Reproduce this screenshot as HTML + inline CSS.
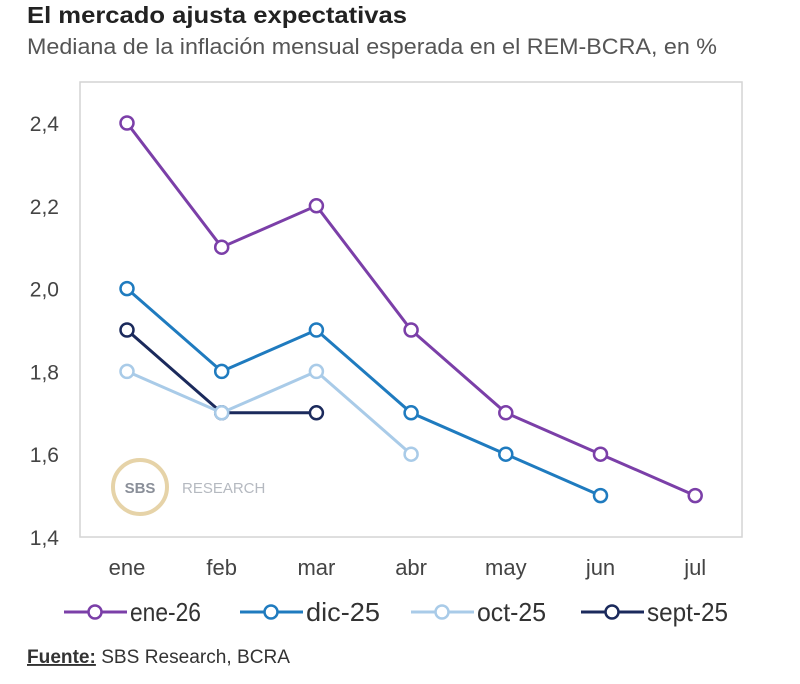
<!DOCTYPE html>
<html><head><meta charset="utf-8"><style>
body{margin:0;background:#fff;width:800px;height:679px;overflow:hidden;font-family:"Liberation Sans",sans-serif}
</style></head><body>
<svg width="800" height="679">
<text x="27" y="23" font-size="23" font-weight="bold" fill="#222" textLength="380" lengthAdjust="spacingAndGlyphs">El mercado ajusta expectativas</text>
<text x="27" y="54" font-size="22" fill="#555" textLength="690" lengthAdjust="spacingAndGlyphs">Mediana de la inflación mensual esperada en el REM-BCRA, en %</text>
<rect x="80" y="82" width="662" height="455" fill="none" stroke="#d4d4d4" stroke-width="1.5"/>
<g>
<circle cx="140" cy="487" r="27" fill="none" stroke="#e6d3a8" stroke-width="4"/>
<text x="140" y="493" font-size="15" font-weight="bold" fill="#8a8f99" text-anchor="middle">SBS</text>
<text x="182" y="493" font-size="15" fill="#b5b9c0">RESEARCH</text>
</g>
<g id="yaxis"></g>
<g id="xaxis"></g>
<g id="series"></g>
<g id="legend"></g>
<text x="27" y="663" font-size="19" fill="#333" textLength="263" lengthAdjust="spacingAndGlyphs"><tspan font-weight="bold" text-decoration="underline">Fuente:</tspan> SBS Research, BCRA</text>
</svg>
<script>
const categories=["ene","feb","mar","abr","may","jun","jul"];
const yTicks=[1.4,1.6,1.8,2.0,2.2,2.4];
const seriesNames=["ene-26","dic-25","oct-25","sept-25"];
const seriesColors=["#7b3fa8","#1f7bbf","#a9cbe8","#1b2a5c"];
const ene26=[2.4,2.1,2.2,1.9,1.7,1.6,1.5];
const dic25=[2.0,1.8,1.9,1.7,1.6,1.5];
const oct25=[1.8,1.7,1.8,1.6];
const sept25=[1.9,1.7,1.7];
const seriesData=[ene26,dic25,oct25,sept25];
const NS="http://www.w3.org/2000/svg";
const x=i=>127+i*94.7;
const y=v=>537-(v-1.4)*414;
function mk(t,a,p){const e=document.createElementNS(NS,t);for(const k in a)e.setAttribute(k,a[k]);p.appendChild(e);return e;}
const ya=document.getElementById('yaxis');
yTicks.forEach(v=>{const t=mk('text',{x:59,y:y(v)+8,'font-size':21,fill:'#444','text-anchor':'end'},ya);t.textContent=v.toFixed(1).replace('.',',');

});
const xa=document.getElementById('xaxis');
categories.forEach((c,i)=>{const t=mk('text',{x:x(i),y:575,'font-size':22,fill:'#444','text-anchor':'middle'},xa);t.textContent=c;

});
const sg=document.getElementById('series');
for(let s=seriesData.length-1;s>=0;s--){
const d=seriesData[s],col=seriesColors[s];
const g=mk('g',{},sg);


mk('polyline',{points:d.map((v,i)=>x(i)+','+y(v)).join(' '),fill:'none',stroke:col,'stroke-width':3},g);
d.forEach((v,i)=>{const c=mk('circle',{cx:x(i),cy:y(v),r:6.5,fill:'#fff',stroke:col,'stroke-width':2.5},g);

});
}
const lg=document.getElementById('legend');
const lx=[64,240,411,581];
const lw=[71,74,69,81];
seriesNames.forEach((n,i)=>{const g=mk('g',{},lg);


mk('line',{x1:lx[i],y1:612,x2:lx[i]+63,y2:612,stroke:seriesColors[i],'stroke-width':3},g);
mk('circle',{cx:lx[i]+31,cy:612,r:6.5,fill:'#fff',stroke:seriesColors[i],'stroke-width':2.5},g);
const t=mk('text',{x:lx[i]+66,y:621,'font-size':26,fill:'#333',textLength:lw[i],lengthAdjust:'spacingAndGlyphs'},g);t.textContent=n;});
</script>
</body></html>
